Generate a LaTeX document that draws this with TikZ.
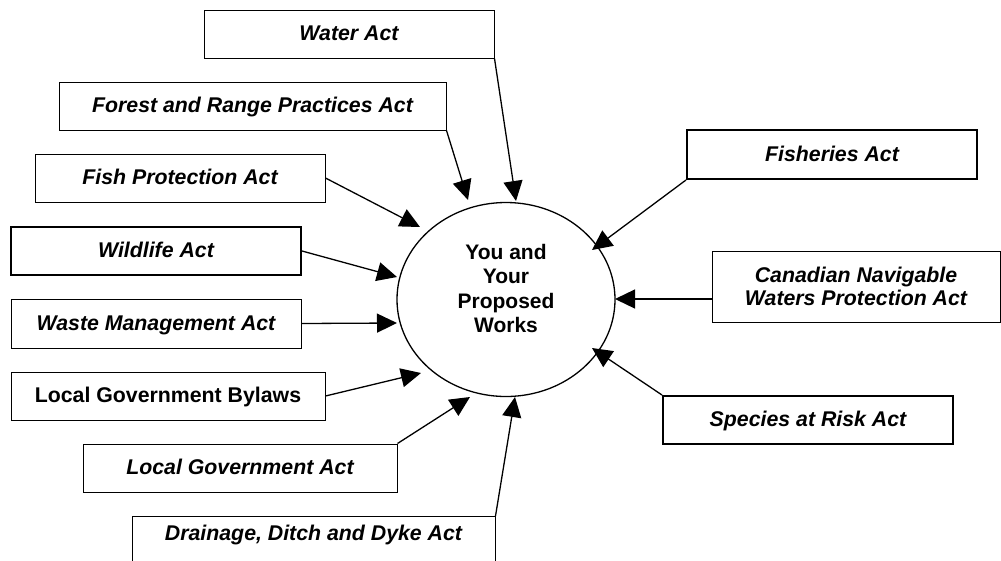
\documentclass[tikz,border=0pt]{standalone}
\usepackage{fontspec}
\setmainfont{Liberation Sans}
\usetikzlibrary{arrows.meta,shapes.geometric}
\tikzset{
  basebox/.style={draw=black, line width=1pt, rectangle, inner sep=0pt, align=center,
    font=\fontsize{21.3}{23}\selectfont\bfseries\itshape},
  actbox/.style={basebox, text height=16pt, text depth=3pt},
  thickbox/.style={actbox, line width=2pt},
  plainbox/.style={actbox, font=\fontsize{21.3}{23}\selectfont\bfseries},
  centre/.style={draw=black, line width=1.3pt, ellipse, inner sep=0pt},
  centretext/.style={font=\fontsize{21}{24.5}\selectfont\bfseries, align=center, inner sep=0pt},
  link/.style={line width=1.3pt, -{Triangle[length=20pt,width=19pt]}}
}
\begin{document}
\begin{tikzpicture}[x=1pt,y=-1pt]
\useasboundingbox (0,0) rectangle (1001,560);
\clip (0,0) rectangle (1001,560);
\fill[white] (0,0) rectangle (1001,560);

% centre
\node[centre, minimum width=218pt, minimum height=194pt] (c) at (506,299.5) {};
\node[centretext] (ct) at (506,288.5) {You and\\Your\\Proposed\\Works};

% boxes
\node[actbox, minimum width=290pt, minimum height=48pt] (water) at (349,34) {Water Act};
\node[actbox, minimum width=387pt, minimum height=48pt] (forest) at (252.5,106) {Forest and Range Practices Act};
\node[actbox, minimum width=290pt, minimum height=48pt] (fish) at (180,178) {Fish Protection Act};
\node[thickbox, minimum width=290pt, minimum height=48pt] (wild) at (156,251) {Wildlife Act};
\node[actbox, minimum width=290pt, minimum height=49pt] (waste) at (156,323.5) {Waste Management Act};
\node[plainbox, minimum width=314pt, minimum height=48pt] (bylaws) at (168,396) {Local Government Bylaws};
\node[actbox, minimum width=314pt, minimum height=48pt] (lga) at (240,468) {Local Government Act};
\node[actbox, anchor=north, minimum width=363pt, text height=24pt, text depth=30pt] (drain) at (313.5,516) {Drainage, Ditch and Dyke Act};
\node[thickbox, minimum width=290pt, minimum height=49pt] (fisheries) at (832,154.5) {Fisheries Act};
\node[basebox, minimum width=288pt, minimum height=71pt] (cnw) at (856,286.5) {Canadian Navigable\\Waters Protection Act};
\node[thickbox, minimum width=290pt, minimum height=48pt] (sar) at (808,420) {Species at Risk Act};

% arrow tips near the centre
\coordinate (t1) at (516,201);
\coordinate (t2) at (468,200);
\coordinate (t3) at (420,227);
\coordinate (t4) at (397,277);
\coordinate (t5) at (397,323);
\coordinate (t6) at (421,373);
\coordinate (t7) at (470,397);
\coordinate (t8) at (515,397);
\coordinate (t9) at (592,250);
\coordinate (t10) at (615,299);
\coordinate (t11) at (592,348);

% connectors
\draw[link] (water.south east) -- (t1);
\draw[link] (forest.south east) -- (t2);
\draw[link] (fish.east) -- (t3);
\draw[link] (wild.east) -- (t4);
\draw[link] (waste.east) -- (t5);
\draw[link] (bylaws.east) -- (t6);
\draw[link] (lga.north east) -- (t7);
\draw[link] (drain.north east) -- (t8);
\draw[link] (fisheries.south west) -- (t9);
\draw[link] (cnw.west |- t10) -- (t10);
\draw[link] (sar.north west) -- (t11);
\end{tikzpicture}
\end{document}
